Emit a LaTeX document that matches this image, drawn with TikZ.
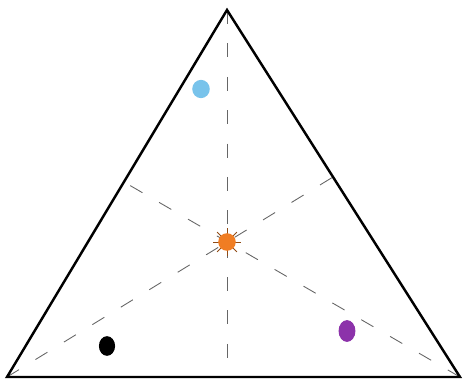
\documentclass[tikz,border=0pt]{standalone}
\usepackage{tikz}
\usetikzlibrary{calc}
\definecolor{dotblue}{RGB}{120,195,235}
\definecolor{dotorange}{RGB}{240,125,35}
\definecolor{dotpurple}{RGB}{140,50,170}
\begin{document}
\begin{tikzpicture}[x=0.02cm, y=-0.02cm,
  side/.style={line width=1.4pt, line join=miter},
  median/.style={gray!80!black, line width=0.5pt, dash pattern=on 8pt off 11pt}]
\useasboundingbox (0,0) rectangle (467,382);
% vertices and centre
\coordinate (top) at (227,10);
\coordinate (left) at (7,377);
\coordinate (right) at (460,377);
\coordinate (centre) at (227,242);
% feet of the dashed lines
\coordinate (footB) at (227,377);
\coordinate (footR) at (333,177);
\coordinate (footL) at (124,182);
% dashed lines
\draw[median] (top) -- (footB);
\draw[median] (left) -- (footR);
\draw[median] (right) -- (footL);
% triangle
\draw[side] (left) -- (top) -- (right) -- cycle;
% star in the centre
\foreach \a in {0,45,...,315}
  \draw[dotorange!60!black, line width=0.5pt] ($(centre)+(\a:8)$) -- ($(centre)+(\a:14)$);
\fill[dotorange] (centre) circle (5pt);
% dots
\fill[dotblue] (201,89) ellipse (5pt and 5.2pt);
\fill[black] (107,346) ellipse (4.6pt and 5.6pt);
\fill[dotpurple] (347,331) ellipse (4.8pt and 6.2pt);
\end{tikzpicture}
\end{document}
